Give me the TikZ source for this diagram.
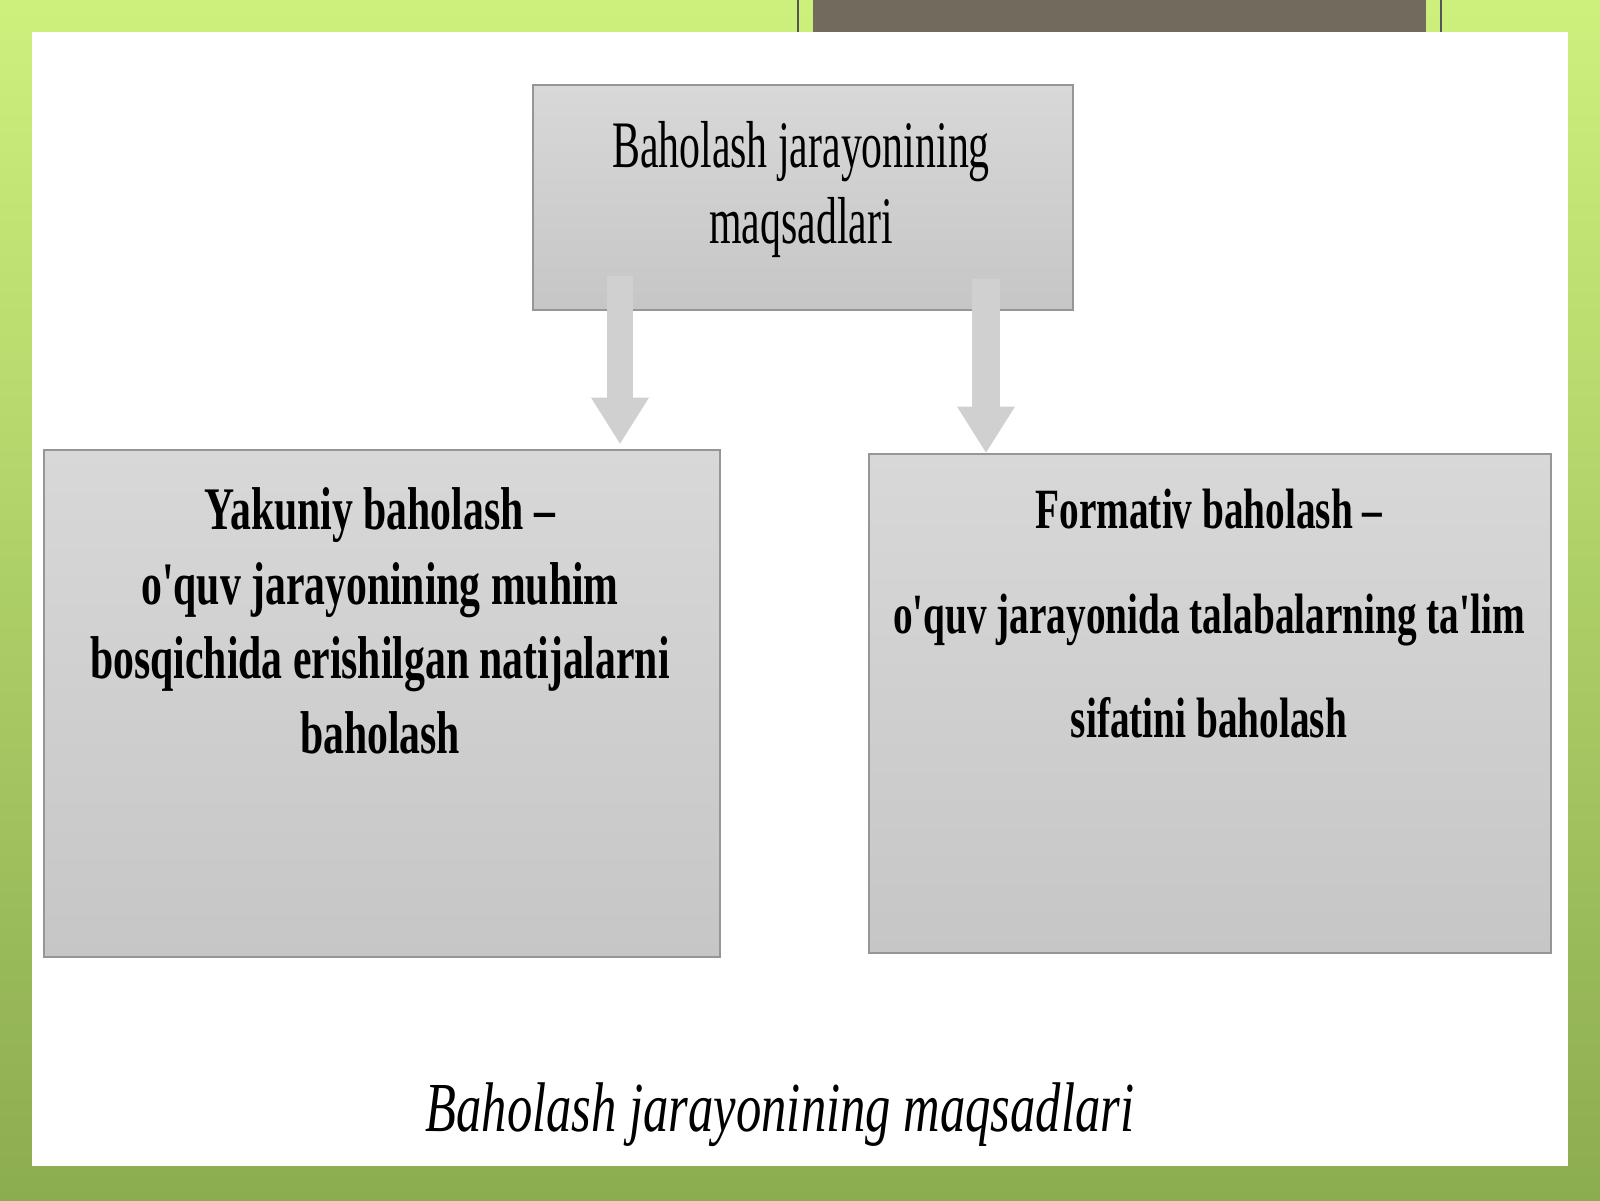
\documentclass[tikz,border=0pt]{standalone}
\usepackage{fontspec}
\setmainfont{Liberation Serif}
\newfontfamily\topfont[FakeStretch=0.63]{Liberation Serif}
\newfontfamily\boxfont[FakeStretch=0.69]{Liberation Serif}
\newfontfamily\capfont[FakeStretch=0.72]{Liberation Serif}
\usetikzlibrary{arrows.meta,calc}
\definecolor{greentop}{RGB}{205,240,125}
\definecolor{greenbot}{RGB}{140,172,80}
\definecolor{brownbar}{RGB}{114,106,92}
\definecolor{barline}{RGB}{85,85,85}
\definecolor{boxtop}{RGB}{216,216,216}
\definecolor{boxbot}{RGB}{198,198,198}
\definecolor{boxedge}{RGB}{150,150,150}
\definecolor{arrowgray}{RGB}{208,208,208}
\tikzset{
  graybox/.style={draw=boxedge, line width=0.8pt, top color=boxtop, bottom color=boxbot, inner sep=0pt},
  txt/.style={inner sep=0pt, anchor=base, text=black},
  blockarrow/.style={draw=arrowgray, line width=#1, -{Triangle[length=0.46cm,width=0.58cm,line width=0pt]}},
}
\begin{document}
\begin{tikzpicture}
\useasboundingbox (0,0) rectangle (16,-12);
% background
\shade[top color=greentop, bottom color=greenbot] (0,0) rectangle (16,-12);
\fill[white] (0.32,-0.32) rectangle (15.68,-11.66);
\fill[brownbar] (8.13,0) rectangle (14.26,-0.32);
\draw[barline, line width=0.6pt] (7.98,0) -- (7.98,-0.32);
\draw[barline, line width=0.6pt] (14.41,0) -- (14.41,-0.32);
% boxes
\node[graybox, minimum width=5.40cm, minimum height=2.25cm] (top) at (8.03,-1.975) {};
\node[graybox, minimum width=6.76cm, minimum height=5.07cm] (left) at (3.82,-7.035) {};
\node[graybox, minimum width=6.82cm, minimum height=4.99cm] (right) at (12.10,-7.035) {};
% arrows
\coordinate (a1x) at (6.20,0);
\coordinate (a2x) at (9.86,0);
\draw[blockarrow=0.26cm] ([yshift=3.5mm]top.south -| a1x) -- ([yshift=0.5mm]left.north -| a1x);
\draw[blockarrow=0.28cm] ([yshift=3.2mm]top.south -| a2x) -- (right.north -| a2x);
% top text
\node[txt, font=\topfont\fontsize{18.9}{22}\selectfont] (t1) at (8.01,-1.67) {Baholash jarayonining};
\node[txt, font=\topfont\fontsize{18.9}{22}\selectfont] (t2) at (8.01,-2.43) {maqsadlari};
% left text
\node[txt, font=\boxfont\bfseries\fontsize{17.2}{20}\selectfont] (l1) at (3.80,-5.29) {Yakuniy baholash –};
\node[txt, font=\boxfont\bfseries\fontsize{17.2}{20}\selectfont] (l2) at (3.80,-6.04) {o'quv jarayonining muhim};
\node[txt, font=\boxfont\bfseries\fontsize{17.2}{20}\selectfont] (l3) at (3.80,-6.78) {bosqichida erishilgan natijalarni};
\node[txt, font=\boxfont\bfseries\fontsize{17.2}{20}\selectfont] (l4) at (3.80,-7.53) {baholash};
% right text
\node[txt, font=\boxfont\bfseries\fontsize{16.2}{20}\selectfont] (r1) at (12.09,-5.28) {Formativ baholash –};
\node[txt, font=\boxfont\bfseries\fontsize{16.2}{20}\selectfont] (r2) at (12.09,-6.33) {o'quv jarayonida talabalarning ta'lim};
\node[txt, font=\boxfont\bfseries\fontsize{16.2}{20}\selectfont] (r3) at (12.09,-7.37) {sifatini baholash};
% caption
\node[txt, font=\capfont\itshape\fontsize{20}{24}\selectfont] (cap) at (7.80,-11.31) {Baholash jarayonining maqsadlari};
\end{tikzpicture}
\end{document}
